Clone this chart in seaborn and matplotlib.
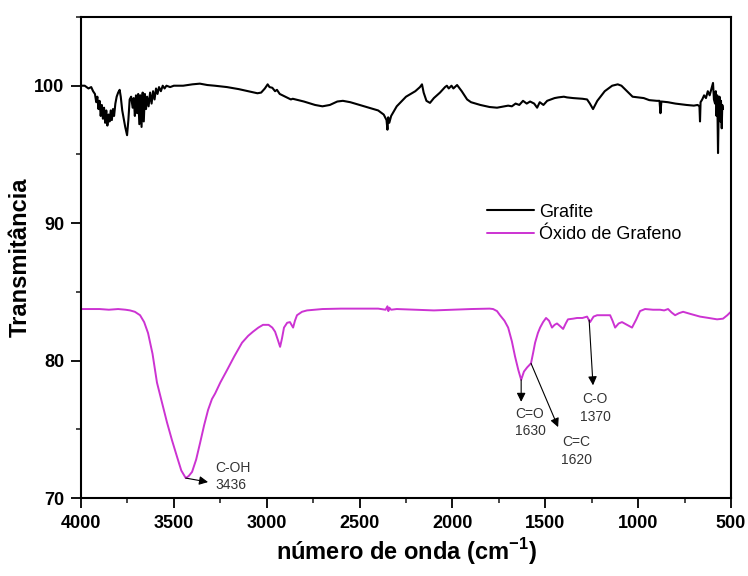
import numpy as np
import pandas as pd
import matplotlib
matplotlib.use("Agg")
import matplotlib.pyplot as plt
from matplotlib.ticker import MultipleLocator
import seaborn as sns

# FTIR spectrum of graphite (wavenumber in cm-1, transmittance in %)
grafite_w = [4000, 3980, 3960, 3945, 3935, 3925, 3918, 3912, 3906, 3900, 3894, 3888,
             3882, 3876, 3870, 3864, 3858, 3852, 3846, 3840, 3834, 3828, 3822, 3815,
             3808, 3800, 3792, 3786, 3778, 3770, 3762, 3752, 3745, 3738, 3730, 3722,
             3716, 3710, 3704, 3698, 3692, 3686, 3680, 3674, 3668, 3662, 3656, 3650,
             3644, 3636, 3628, 3620, 3612, 3604, 3596, 3588, 3580, 3570, 3560, 3550,
             3540, 3520, 3500, 3450, 3400, 3360, 3320, 3280, 3214, 3150, 3100, 3050,
             3030, 3010, 2995, 2985, 2970, 2955, 2945, 2930, 2900, 2870, 2860, 2800,
             2740, 2700, 2660, 2620, 2590, 2550, 2500, 2450, 2400, 2370, 2355, 2350,
             2346, 2340, 2330, 2300, 2250, 2200, 2175, 2164, 2155, 2140, 2121, 2100,
             2067, 2040, 2030, 2020, 2005, 1995, 1975, 1950, 1921, 1900, 1850, 1800,
             1760, 1720, 1700, 1680, 1660, 1640, 1620, 1600, 1582, 1560, 1544, 1530,
             1510, 1490, 1470, 1450, 1430, 1400, 1383, 1350, 1300, 1275, 1260, 1243,
             1220, 1180, 1140, 1110, 1090, 1060, 1030, 1000, 970, 940, 900, 885,
             880, 875, 840, 800, 770, 740, 700, 680, 670, 667, 664, 655, 645, 635,
             625, 615, 605, 597, 592, 586, 582, 578, 574, 570, 566, 562, 558, 554,
             550, 547, 543]
grafite_t = [100.0, 100.0, 99.8, 99.9, 99.6, 99.4, 98.8, 99.2, 98.3, 98.9, 97.8, 98.6,
             97.6, 98.4, 97.3, 98.2, 97.1, 97.9, 97.4, 98.2, 97.5, 98.3, 97.8, 98.7,
             99.2, 99.5, 99.7, 99.2, 98.2, 97.6, 97.0, 96.4, 97.5, 99.0, 99.2, 98.4,
             99.1, 97.8, 99.3, 98.0, 99.4, 97.2, 99.3, 97.0, 99.5, 97.4, 99.4, 98.3,
             99.2, 98.5, 99.5, 98.7, 99.6, 99.0, 99.8, 99.4, 99.9, 99.6, 100.0, 99.8,
             100.0, 99.9, 100.0, 100.0, 100.1, 100.15, 100.05, 100.0, 99.9, 99.75, 99.6, 99.45,
             99.5, 99.8, 100.1, 99.9, 99.85, 99.6, 99.7, 99.4, 99.2, 99.0, 99.05, 98.85,
             98.6, 98.5, 98.6, 98.85, 98.9, 98.8, 98.6, 98.4, 98.2, 97.9, 97.5, 96.8,
             97.7, 97.3, 97.8, 98.5, 99.2, 99.6, 99.9, 100.1, 99.5, 98.9, 98.75, 99.1,
             99.5, 99.9, 100.0, 99.8, 100.0, 99.8, 100.05, 99.6, 99.0, 98.8, 98.6, 98.45,
             98.4, 98.5, 98.55, 98.5, 98.7, 98.6, 98.9, 98.7, 98.85, 98.7, 98.4, 98.8,
             98.6, 98.9, 99.0, 99.1, 99.15, 99.2, 99.15, 99.1, 99.05, 99.0, 98.7, 98.3,
             98.9, 99.6, 100.0, 100.1, 100.0, 99.6, 99.2, 99.15, 99.1, 98.95, 98.9, 98.9,
             98.0, 98.85, 98.8, 98.7, 98.65, 98.6, 98.55, 98.6, 98.5, 97.4, 98.8, 99.0, 99.3, 99.1,
             99.6, 99.3, 99.8, 100.2, 99.0, 98.7, 99.6, 97.8, 99.3, 95.1, 98.6, 99.2, 97.4, 98.9,
             96.9, 98.6, 98.3]

# FTIR spectrum of graphene oxide
go_w = [4000, 3900, 3850, 3800, 3760, 3736, 3710, 3682, 3660, 3639, 3615, 3591,
        3565, 3537, 3510, 3483, 3460, 3436, 3420, 3402, 3380, 3359, 3337, 3316,
        3295, 3278, 3250, 3214, 3175, 3133, 3100, 3074, 3045, 3020, 2990, 2970,
        2955, 2940, 2928, 2918, 2907, 2890, 2875, 2858, 2848, 2837, 2810, 2783,
        2700, 2600, 2500, 2400, 2360, 2350, 2345, 2340, 2330, 2300, 2200, 2100,
        2000, 1900, 1800, 1781, 1760, 1744, 1720, 1700, 1680, 1663, 1645, 1630,
        1615, 1598, 1577, 1565, 1555, 1540, 1528, 1512, 1496, 1480, 1464, 1450,
        1437, 1420, 1404, 1390, 1378, 1350, 1329, 1300, 1275, 1259, 1240, 1221,
        1180, 1151, 1138, 1124, 1105, 1087, 1060, 1033, 1010, 990, 963, 920,
        882, 860, 839, 820, 801, 780, 758, 720, 667, 620, 575, 543,
        520, 505, 500]
go_t = [83.75, 83.75, 83.7, 83.75, 83.7, 83.65, 83.55, 83.3, 82.8, 82.0, 80.5, 78.4,
        77.0, 75.5, 74.2, 73.0, 72.0, 71.45, 71.6, 71.9, 72.8, 74.0, 75.3, 76.4,
        77.2, 77.6, 78.4, 79.3, 80.3, 81.3, 81.8, 82.1, 82.4, 82.6, 82.6, 82.4,
        82.1, 81.5, 81.0, 81.6, 82.4, 82.75, 82.8, 82.4, 82.9, 83.3, 83.55, 83.65,
        83.75, 83.78, 83.78, 83.78, 83.7, 83.95, 83.6, 83.85, 83.7, 83.75, 83.7, 83.65,
        83.7, 83.75, 83.78, 83.75, 83.6, 83.3, 82.9, 82.4, 81.4, 80.3, 79.3, 78.6,
        79.2, 79.5, 79.8, 80.6, 81.3, 82.0, 82.4, 82.8, 83.1, 82.9, 82.4, 82.6,
        82.7, 82.5, 82.3, 82.7, 83.0, 83.05, 83.1, 83.1, 83.2, 82.8, 83.2, 83.3,
        83.3, 83.3, 82.9, 82.4, 82.7, 82.8, 82.6, 82.4, 83.0, 83.6, 83.75, 83.7,
        83.7, 83.65, 83.75, 83.5, 83.3, 83.45, 83.55, 83.4, 83.2, 83.1, 83.0, 83.05,
        83.3, 83.5, 83.55]

# Band assignments: label, arrow tail (on the curve), arrow head, text position
band_labels = ["C-OH\n3436", "C=O\n1630", "C=C\n1620", "C-O\n1370"]
arrow_tail = [(3436, 71.45), (1630, 78.6), (1577, 79.8), (1264, 82.95)]
arrow_head = [(3316, 71.16), (1630, 77.0), (1431, 75.16), (1243, 78.2)]
text_pos = [(3278, 71.56), (1582, 75.49), (1334, 73.42), (1232, 76.58)]
text_ha = ["left", "center", "center", "center"]

series_names = ["Grafite", "Óxido de Grafeno"]
series_colors = ["#000000", "#CC33D2"]

sns.set_theme(style="ticks")
plt.rcParams["font.family"] = ["Liberation Sans", "DejaVu Sans"]
plt.rcParams["mathtext.fontset"] = "custom"
plt.rcParams["mathtext.rm"] = "Liberation Sans"
plt.rcParams["mathtext.bf"] = "Liberation Sans:bold"
plt.rcParams["text.color"] = "black"
plt.rcParams["axes.labelcolor"] = "black"

fig = plt.figure(figsize=(7.48, 5.76), dpi=100)
ax = fig.add_axes([0.1083, 0.1354, 0.869, 0.8351])

df_g = pd.DataFrame({"w": grafite_w, "t": grafite_t})
df_o = pd.DataFrame({"w": go_w, "t": go_t})
sns.lineplot(data=df_g, x="w", y="t", ax=ax, color=series_colors[0], lw=1.5,
             label=series_names[0], sort=False)
sns.lineplot(data=df_o, x="w", y="t", ax=ax, color=series_colors[1], lw=1.4,
             label=series_names[1], sort=False)

ax.set_xlim(4000, 500)
ax.set_ylim(70, 105)
ax.xaxis.set_major_locator(MultipleLocator(500))
ax.xaxis.set_minor_locator(MultipleLocator(250))
ax.yaxis.set_major_locator(MultipleLocator(10))
ax.yaxis.set_minor_locator(MultipleLocator(5))
ax.tick_params(which="major", direction="out", length=7, width=1.3, pad=5,
               labelsize=13, colors="black")
ax.tick_params(which="minor", direction="out", length=3.5, width=1.2)
ax.tick_params(top=False, right=False, which="both")
for lab in ax.get_xticklabels() + ax.get_yticklabels():
    lab.set_fontweight("bold")
for sp in ax.spines.values():
    sp.set_linewidth(1.5)
    sp.set_color("black")

ax.set_xlabel("número de onda (cm$^{\\mathbf{-1}}$)", fontsize=17, fontweight="bold",
              labelpad=3, color="black")
ax.set_ylabel("Transmitância", fontsize=17, fontweight="bold", labelpad=2, color="black")

leg = ax.legend(loc="upper left", bbox_to_anchor=(0.624, 0.612), frameon=False,
                fontsize=13, handlelength=2.6, handletextpad=0.3, labelspacing=0.3,
                borderpad=0, borderaxespad=0)
for t in leg.get_texts():
    t.set_color("black")

for lab, tail, head, pos, ha in zip(band_labels, arrow_tail, arrow_head, text_pos, text_ha):
    ax.annotate("", xy=head, xytext=tail,
                arrowprops=dict(arrowstyle="-|>", color="black", lw=0.8,
                                mutation_scale=13, shrinkA=0, shrinkB=0))
    ax.text(pos[0], pos[1], lab, ha=ha, va="center", fontsize=10,
            color="#333333", linespacing=1.35, multialignment=ha)

fig.savefig("out.png", dpi=100)
